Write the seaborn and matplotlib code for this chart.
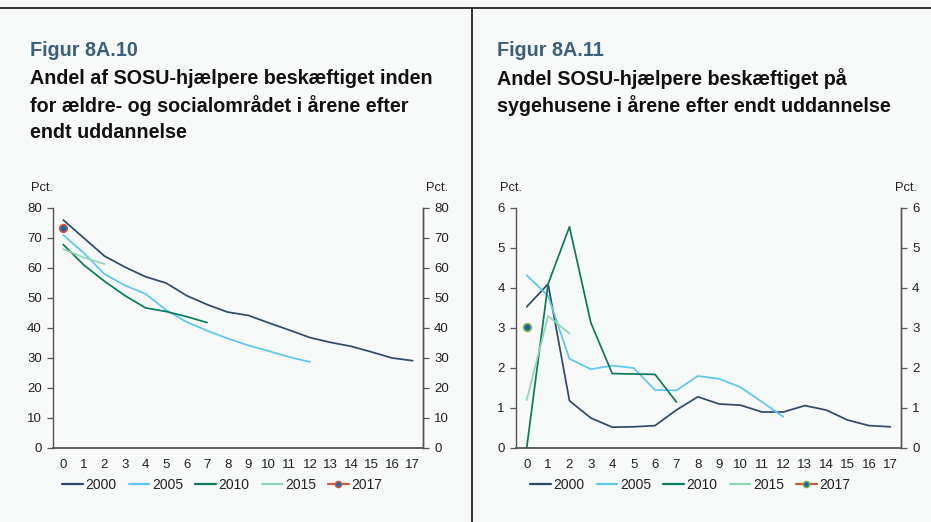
import matplotlib
matplotlib.use("Agg")
import matplotlib.pyplot as plt
from matplotlib.lines import Line2D
import seaborn as sns
import pandas as pd
import numpy as np

sns.set_theme(style="white")
plt.rcParams['font.family'] = ['Liberation Sans', 'DejaVu Sans']

# ---- data ----
years_after = list(range(18))
series_names = ["2000", "2005", "2010", "2015", "2017"]

care_2000 = [76, 70, 64, 60.3, 57.1, 55, 50.8, 47.8, 45.3, 44.2, 41.7, 39.3, 36.8, 35.2, 33.9, 32.0, 30.0, 29.1]
care_2005 = [71, 65, 58, 54.2, 51.4, 46, 42, 39.1, 36.5, 34.2, 32.3, 30.3, 28.7]
care_2010 = [67.8, 61, 55.6, 50.8, 46.7, 45.5, 43.8, 41.8]
care_2015 = [66.3, 63.5, 61.3]
care_2017 = [73.2]

hosp_2000 = [3.53, 4.1, 1.18, 0.75, 0.52, 0.53, 0.56, 0.95, 1.28, 1.1, 1.07, 0.9, 0.9, 1.06, 0.95, 0.7, 0.56, 0.53]
hosp_2005 = [4.32, 3.8, 2.23, 1.97, 2.06, 2.0, 1.45, 1.44, 1.8, 1.73, 1.52, 1.15, 0.78]
hosp_2010 = [0.0, 4.1, 5.53, 3.13, 1.86, 1.85, 1.84, 1.15]
hosp_2015 = [1.2, 3.3, 2.86]
hosp_2017 = [3.03]

left_title_fig = "Figur 8A.10"
left_title_lines = ["Andel af SOSU-hjælpere beskæftiget inden",
                    "for ældre- og socialområdet i årene efter",
                    "endt uddannelse"]
right_title_fig = "Figur 8A.11"
right_title_lines = ["Andel SOSU-hjælpere beskæftiget på",
                     "sygehusene i årene efter endt uddannelse"]

colors = {"2000": "#2e4a68", "2005": "#5cc8ef", "2010": "#0a7a5e", "2015": "#8dd6b4"}
marker_face = "#1f63a8"

BG = "#f8f9f9"


def to_long(series_list):
    rows = []
    for name, vals in zip(series_names, series_list):
        for i, v in enumerate(vals):
            rows.append({"x": years_after[i], "y": v, "serie": name})
    return pd.DataFrame(rows)


fig = plt.figure(figsize=(9.31, 5.22), dpi=100, facecolor=BG)

ax_l = fig.add_axes([53 / 931, 1 - 448 / 522, 370 / 931, 240 / 522])
ax_r = fig.add_axes([516 / 931, 1 - 448 / 522, 385 / 931, 240 / 522])

SPINE = "#555555"
TXT = "#222222"


def draw(ax, series_list, ymax, ystep, edge_2017, pct_left, pct_right, leg_x):
    ax.set_facecolor(BG)
    df = to_long(series_list[:4])
    sns.lineplot(data=df, x="x", y="y", hue="serie", palette=colors,
                 ax=ax, linewidth=1.25, legend=False, estimator=None, sort=False)
    d17 = to_long([[], [], [], [], series_list[4]])
    sns.scatterplot(data=d17, x="x", y="y", ax=ax, color=marker_face,
                    edgecolor=edge_2017, linewidth=1.2, s=30, legend=False, zorder=5)
    ax.set_xlim(-0.5, 17.5)
    ax.set_ylim(0, ymax)
    ax.set_xlabel("")
    ax.set_ylabel("")
    ax.set_xticks(years_after)
    ax.set_xticklabels([str(v) for v in years_after])
    ax.set_xticks(np.arange(-0.5, 18, 1), minor=True)
    ax.tick_params(axis="x", which="major", length=0, pad=8, labelsize=9.5, labelcolor=TXT)
    ax.tick_params(axis="x", which="minor", length=4, width=0.9, color=SPINE, direction="out")
    yt = np.arange(0, ymax + ystep / 2, ystep)
    ax.set_yticks(yt)
    ax.set_yticklabels([f"{v:g}" for v in yt])
    ax.tick_params(axis="y", length=4, width=0.9, color=SPINE, direction="out",
                   labelsize=9.5, labelcolor=TXT, pad=4, left=True)
    ax.spines["top"].set_visible(False)
    for s in ["left", "bottom", "right"]:
        ax.spines[s].set_visible(True)
        ax.spines[s].set_color(SPINE)
        ax.spines[s].set_linewidth(1.0)
    ax.spines["bottom"].set_linewidth(1.3)
    ax2 = ax.twinx()
    ax2.set_ylim(0, ymax)
    ax2.set_yticks(yt)
    ax2.set_yticklabels([f"{v:g}" for v in yt])
    ax2.tick_params(axis="y", length=4, width=0.9, color=SPINE, direction="out",
                    labelsize=9.5, labelcolor=TXT, pad=4, right=True)
    for s in ["top", "left", "bottom"]:
        ax2.spines[s].set_visible(False)
    ax2.spines["right"].set_color(SPINE)
    ax2.spines["right"].set_linewidth(1.0)
    ax.text(pct_left, 1.085, "Pct.", transform=ax.transAxes, fontsize=9.3, color=TXT,
            ha="left", va="center")
    ax.text(pct_right, 1.085, "Pct.", transform=ax.transAxes, fontsize=9.3, color=TXT,
            ha="right", va="center")
    handles = [Line2D([], [], color=colors[n], lw=1.6) for n in series_names[:4]]
    handles.append(Line2D([], [], color="#d2593a", lw=1.6, marker="o",
                          markerfacecolor=marker_face, markeredgecolor=edge_2017,
                          markersize=4.5))
    leg = ax.legend(handles, series_names, loc="upper left", bbox_to_anchor=(leg_x, -0.125),
                    ncol=5, frameon=False, fontsize=10, handlelength=1.5,
                    handletextpad=0.2, columnspacing=0.85, borderaxespad=0,
                    borderpad=0)
    for t in leg.get_texts():
        t.set_color(TXT)
    return leg


draw(ax_l, [care_2000, care_2005, care_2010, care_2015, care_2017], 80, 10, "#d2593a",
     -0.059, 1.068, 9 / 370)
draw(ax_r, [hosp_2000, hosp_2005, hosp_2010, hosp_2015, hosp_2017], 6, 1, "#7ab648",
     -0.042, 1.042, 14 / 385)

# separators
fig.add_artist(Line2D([0, 1], [1 - 8 / 522, 1 - 8 / 522], color="#111111", lw=1.2,
                      transform=fig.transFigure))
fig.add_artist(Line2D([472 / 931, 472 / 931], [0, 1 - 8 / 522], color="#111111", lw=1.2,
                      transform=fig.transFigure))

# titles
TS = 14.2
fig.text(30 / 931, 1 - 51 / 522, left_title_fig, fontsize=TS, fontweight="bold",
         color="#3c5f7d", ha="left", va="center")
for i, line in enumerate(left_title_lines):
    fig.text(30 / 931, 1 - (79 + 27 * i) / 522, line, fontsize=TS, fontweight="bold",
             color="#111111", ha="left", va="center")
fig.text(497 / 931, 1 - 51 / 522, right_title_fig, fontsize=TS, fontweight="bold",
         color="#3c5f7d", ha="left", va="center")
for i, line in enumerate(right_title_lines):
    fig.text(497 / 931, 1 - (79 + 27 * i) / 522, line, fontsize=TS, fontweight="bold",
             color="#111111", ha="left", va="center")

fig.savefig("out.png", dpi=100, facecolor=BG)
